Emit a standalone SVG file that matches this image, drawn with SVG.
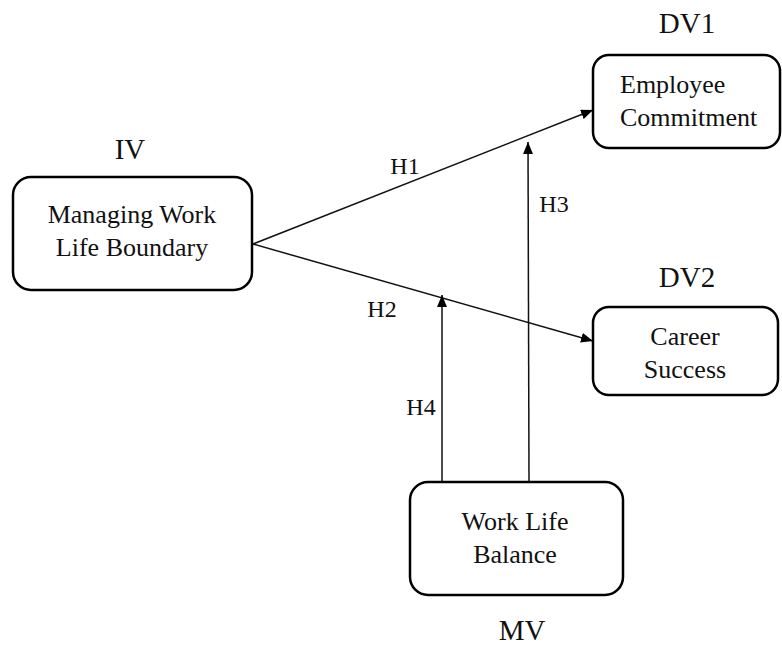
<svg xmlns="http://www.w3.org/2000/svg" width="782" height="646" viewBox="0 0 782 646">
<style>
.box{fill:#fff;stroke:#000;stroke-width:2.5}
text{font-family:"Liberation Serif","Times New Roman",serif;fill:#111}
.lbl{font-size:29px;text-anchor:middle}
.bt{font-size:26px}
.h{font-size:24px;text-anchor:middle}
.c{stroke:#111;stroke-width:1.5;fill:none}
</style>
<defs>
<marker id="ah" viewBox="0 0 12 10" refX="12" refY="5" markerWidth="12" markerHeight="10" markerUnits="userSpaceOnUse" orient="auto">
<path d="M0,0 L12,5 L0,10 Z" fill="#000"/>
</marker>
</defs>
<rect width="782" height="646" fill="#fff"/>
<g id="connectors">
<line class="c" x1="253" y1="244" x2="593" y2="110" marker-end="url(#ah)"/>
<line class="c" x1="253" y1="244" x2="593" y2="341" marker-end="url(#ah)"/>
<line class="c" x1="442" y1="482" x2="442" y2="295" marker-end="url(#ah)"/>
<line class="c" x1="529" y1="482" x2="528" y2="142" marker-end="url(#ah)"/>
<text class="h" x="405" y="174">H1</text>
<text class="h" x="382" y="317">H2</text>
<text class="h" x="554" y="212">H3</text>
<text class="h" x="421" y="415">H4</text>
</g>
<g id="iv">
<text class="lbl" x="130" y="159">IV</text>
<rect class="box" x="13" y="177" width="239" height="113" rx="18"/>
<text class="bt" x="132" y="223" text-anchor="middle">Managing Work</text>
<text class="bt" x="132" y="256" text-anchor="middle">Life Boundary</text>
</g>
<g id="dv1">
<text class="lbl" x="687" y="33">DV1</text>
<rect class="box" x="593" y="55" width="187" height="93" rx="16"/>
<text class="bt" x="620" y="93">Employee</text>
<text class="bt" x="620" y="126">Commitment</text>
</g>
<g id="dv2">
<text class="lbl" x="687" y="287">DV2</text>
<rect class="box" x="593" y="307" width="185" height="88" rx="16"/>
<text class="bt" x="685" y="345" text-anchor="middle">Career</text>
<text class="bt" x="685" y="378" text-anchor="middle">Success</text>
</g>
<g id="mv">
<rect class="box" x="410" y="482" width="213" height="113" rx="18"/>
<text class="bt" x="515" y="530" text-anchor="middle">Work Life</text>
<text class="bt" x="515" y="563" text-anchor="middle">Balance</text>
<text class="lbl" x="522" y="640">MV</text>
</g>
</svg>
